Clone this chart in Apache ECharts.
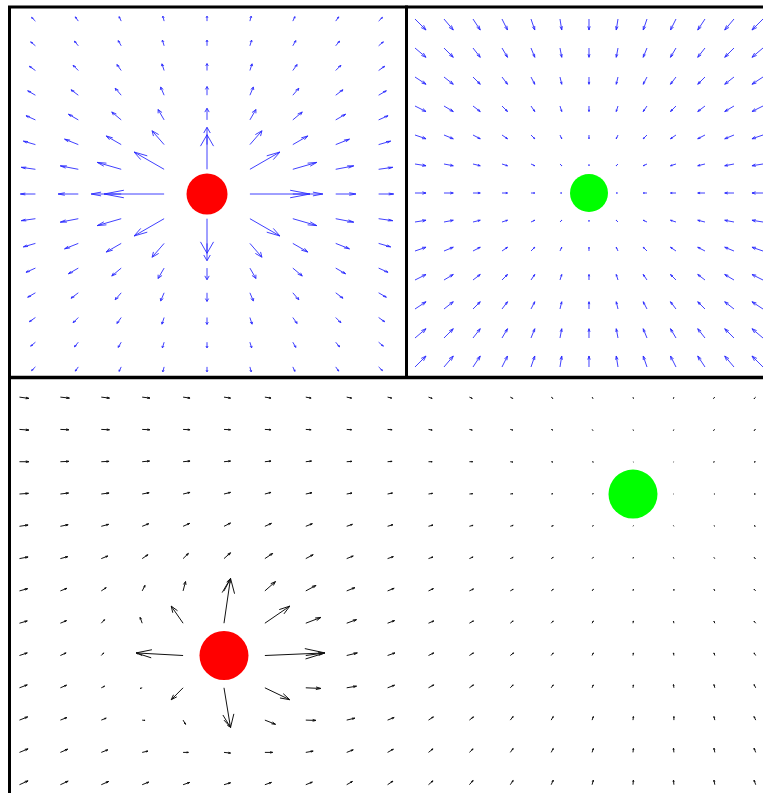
<!DOCTYPE html>
<html>
<head>
<meta charset="utf-8">
<script src="https://cdn.jsdelivr.net/npm/echarts@6/dist/echarts.min.js"></script>
<style>
  html, body { margin: 0; padding: 0; background: #fff; }
  #chart { width: 763px; height: 793px; }
</style>
</head>
<body>
<div id="chart"></div>
<script>
// ---- Panel A (top left): field of the red source charge ----
const fieldAX = [-4, -3, -2, -1, 0, 1, 2, 3, 4];
const fieldAY = [7, 6, 5, 4, 3, 2, 1, 0, -1, -2, -3, -4, -5, -6, -7];
const fieldAU = [
  [-0.09, -0.07, -0.05, -0.03, 0, 0.03, 0.05, 0.07, 0.09],
  [-0.11, -0.09, -0.07, -0.04, 0, 0.04, 0.07, 0.09, 0.11],
  [-0.14, -0.12, -0.10, -0.05, 0, 0.05, 0.10, 0.12, 0.14],
  [-0.18, -0.17, -0.14, -0.08, 0, 0.08, 0.14, 0.17, 0.18],
  [-0.22, -0.23, -0.22, -0.14, 0, 0.14, 0.22, 0.23, 0.22],
  [-0.28, -0.32, -0.35, -0.28, 0, 0.28, 0.35, 0.32, 0.28],
  [-0.33, -0.42, -0.56, -0.70, 0, 0.70, 0.56, 0.42, 0.33],
  [-0.35, -0.47, -0.70, -1.40, null, 1.40, 0.70, 0.47, 0.35],
  [-0.33, -0.42, -0.56, -0.70, 0, 0.70, 0.56, 0.42, 0.33],
  [-0.28, -0.32, -0.35, -0.28, 0, 0.28, 0.35, 0.32, 0.28],
  [-0.22, -0.23, -0.22, -0.14, 0, 0.14, 0.22, 0.23, 0.22],
  [-0.18, -0.17, -0.14, -0.08, 0, 0.08, 0.14, 0.17, 0.18],
  [-0.14, -0.12, -0.10, -0.05, 0, 0.05, 0.10, 0.12, 0.14],
  [-0.11, -0.09, -0.07, -0.04, 0, 0.04, 0.07, 0.09, 0.11],
  [-0.09, -0.07, -0.05, -0.03, 0, 0.03, 0.05, 0.07, 0.09]
];
const fieldAV = [
  [0.15, 0.17, 0.18, 0.20, 0.20, 0.20, 0.18, 0.17, 0.15],
  [0.16, 0.19, 0.21, 0.23, 0.23, 0.23, 0.21, 0.19, 0.16],
  [0.17, 0.21, 0.24, 0.27, 0.28, 0.27, 0.24, 0.21, 0.17],
  [0.18, 0.22, 0.28, 0.33, 0.35, 0.33, 0.28, 0.22, 0.18],
  [0.17, 0.23, 0.32, 0.42, 0.47, 0.42, 0.32, 0.23, 0.17],
  [0.14, 0.22, 0.35, 0.56, 0.70, 0.56, 0.35, 0.22, 0.14],
  [0.08, 0.14, 0.28, 0.70, 1.40, 0.70, 0.28, 0.14, 0.08],
  [0, 0, 0, 0, null, 0, 0, 0, 0],
  [-0.08, -0.14, -0.28, -0.70, -1.40, -0.70, -0.28, -0.14, -0.08],
  [-0.14, -0.22, -0.35, -0.56, -0.70, -0.56, -0.35, -0.22, -0.14],
  [-0.17, -0.23, -0.32, -0.42, -0.47, -0.42, -0.32, -0.23, -0.17],
  [-0.18, -0.22, -0.28, -0.33, -0.35, -0.33, -0.28, -0.22, -0.18],
  [-0.17, -0.21, -0.24, -0.27, -0.28, -0.27, -0.24, -0.21, -0.17],
  [-0.16, -0.19, -0.21, -0.23, -0.23, -0.23, -0.21, -0.19, -0.16],
  [-0.15, -0.17, -0.18, -0.20, -0.20, -0.20, -0.18, -0.17, -0.15]
];
const chargeA = [0, 0];

// ---- Panel B (top right): field pulling toward the green charge ----
const fieldBX = [-6, -5, -4, -3, -2, -1, 0, 1, 2, 3, 4, 5, 6];
const fieldBY = [6, 5, 4, 3, 2, 1, 0, -1, -2, -3, -4, -5, -6];
// horizontal component for each column, vertical component for each row
const fieldBColU = [0.38, 0.32, 0.25, 0.19, 0.13, 0.06, 0, -0.06, -0.13, -0.19, -0.25, -0.32, -0.38];
const fieldBRowV = [-0.38, -0.32, -0.25, -0.19, -0.13, -0.06, 0, 0.06, 0.13, 0.19, 0.25, 0.32, 0.38];
const chargeB = [0, 0];

// ---- Panel C (bottom): both charges together ----
const fieldCX = [-5, -4, -3, -2, -1, 0, 1, 2, 3, 4, 5, 6, 7, 8, 9, 10, 11, 12, 13];
const fieldCY = [8, 7, 6, 5, 4, 3, 2, 1, 0, -1, -2, -3, -4];
const fieldCU = [
  [0.23, 0.22, 0.20, 0.19, 0.17, 0.16, 0.15, 0.13, 0.12, 0.10, 0.09, 0.07, 0.06, 0.04, 0.02, 0.01, -0.01, -0.03, -0.04],
  [0.23, 0.21, 0.20, 0.19, 0.17, 0.16, 0.15, 0.13, 0.12, 0.11, 0.09, 0.07, 0.06, 0.04, 0.02, 0.01, -0.01, -0.03, -0.04],
  [0.23, 0.21, 0.19, 0.18, 0.17, 0.16, 0.15, 0.14, 0.13, 0.11, 0.09, 0.08, 0.06, 0.04, 0.03, 0.01, -0.01, -0.03, -0.04],
  [0.22, 0.20, 0.19, 0.17, 0.17, 0.16, 0.15, 0.15, 0.13, 0.12, 0.10, 0.08, 0.06, 0.04, 0.03, 0.01, -0.01, -0.02, -0.04],
  [0.21, 0.19, 0.18, 0.16, 0.16, 0.16, 0.16, 0.16, 0.14, 0.13, 0.11, 0.09, 0.07, 0.05, 0.03, 0.01, -0.01, -0.02, -0.04],
  [0.21, 0.18, 0.16, 0.14, 0.13, 0.16, 0.19, 0.18, 0.16, 0.14, 0.11, 0.09, 0.07, 0.05, 0.03, 0.01, -0.01, -0.02, -0.04],
  [0.20, 0.16, 0.12, 0.07, 0.06, 0.16, 0.26, 0.25, 0.20, 0.16, 0.12, 0.10, 0.07, 0.05, 0.03, 0.01, 0.00, -0.02, -0.04],
  [0.19, 0.15, 0.08, -0.05, -0.29, 0.16, 0.61, 0.37, 0.24, 0.17, 0.13, 0.10, 0.07, 0.05, 0.03, 0.01, -0.01, -0.02, -0.04],
  [0.19, 0.14, 0.06, -0.14, -1.15, null, 1.47, 0.46, 0.26, 0.18, 0.13, 0.10, 0.08, 0.05, 0.03, 0.01, -0.01, -0.02, -0.04],
  [0.19, 0.15, 0.08, -0.05, -0.29, 0.16, 0.61, 0.37, 0.24, 0.17, 0.13, 0.10, 0.07, 0.05, 0.03, 0.01, -0.01, -0.02, -0.04],
  [0.20, 0.16, 0.12, 0.07, 0.06, 0.16, 0.26, 0.25, 0.20, 0.16, 0.12, 0.10, 0.07, 0.05, 0.03, 0.01, 0.00, -0.02, -0.04],
  [0.21, 0.18, 0.16, 0.14, 0.13, 0.16, 0.19, 0.18, 0.16, 0.14, 0.11, 0.09, 0.07, 0.05, 0.03, 0.01, -0.01, -0.02, -0.04],
  [0.21, 0.19, 0.18, 0.16, 0.16, 0.16, 0.16, 0.16, 0.14, 0.13, 0.11, 0.09, 0.07, 0.05, 0.03, 0.01, -0.01, -0.02, -0.04]
];
const fieldCV = [
  [-0.04, -0.03, -0.03, -0.03, -0.03, -0.03, -0.03, -0.03, -0.03, -0.03, -0.04, -0.04, -0.04, -0.04, -0.04, -0.04, -0.04, -0.04, -0.05],
  [-0.02, -0.01, -0.01, -0.01, -0.01, -0.01, -0.01, -0.01, -0.01, -0.01, -0.02, -0.02, -0.02, -0.02, -0.03, -0.03, -0.03, -0.03, -0.03],
  [0.00, 0.01, 0.01, 0.02, 0.02, 0.02, 0.02, 0.02, 0.01, 0.01, 0.00, 0.00, -0.01, -0.01, -0.01, -0.01, -0.01, -0.01, -0.01],
  [0.02, 0.03, 0.03, 0.04, 0.05, 0.05, 0.05, 0.04, 0.03, 0.03, 0.02, 0.01, 0.01, 0.01, 0.01, 0.01, 0.00, 0.00, 0.00],
  [0.04, 0.05, 0.06, 0.08, 0.09, 0.10, 0.09, 0.08, 0.06, 0.05, 0.04, 0.03, 0.03, 0.02, 0.02, 0.02, 0.02, 0.02, 0.02],
  [0.05, 0.06, 0.08, 0.12, 0.16, 0.18, 0.16, 0.12, 0.08, 0.06, 0.05, 0.05, 0.04, 0.04, 0.04, 0.04, 0.03, 0.03, 0.03],
  [0.07, 0.08, 0.10, 0.17, 0.29, 0.38, 0.29, 0.17, 0.10, 0.08, 0.07, 0.06, 0.05, 0.05, 0.05, 0.05, 0.05, 0.05, 0.05],
  [0.07, 0.08, 0.11, 0.18, 0.53, 1.39, 0.53, 0.18, 0.11, 0.08, 0.07, 0.07, 0.07, 0.07, 0.07, 0.07, 0.06, 0.06, 0.06],
  [0.08, 0.08, 0.08, 0.08, 0.08, null, 0.08, 0.08, 0.08, 0.08, 0.08, 0.08, 0.08, 0.08, 0.08, 0.08, 0.08, 0.08, 0.08],
  [0.09, 0.08, 0.05, -0.02, -0.37, -1.23, -0.37, -0.02, 0.05, 0.08, 0.09, 0.09, 0.09, 0.09, 0.09, 0.09, 0.10, 0.10, 0.10],
  [0.10, 0.08, 0.06, -0.01, -0.13, -0.22, -0.13, -0.01, 0.06, 0.08, 0.10, 0.10, 0.11, 0.11, 0.11, 0.11, 0.11, 0.11, 0.11],
  [0.11, 0.10, 0.08, 0.04, 0.00, -0.02, 0.00, 0.04, 0.08, 0.10, 0.11, 0.11, 0.12, 0.12, 0.12, 0.12, 0.13, 0.13, 0.13],
  [0.12, 0.11, 0.10, 0.08, 0.07, 0.06, 0.07, 0.08, 0.10, 0.11, 0.12, 0.13, 0.13, 0.14, 0.14, 0.14, 0.14, 0.14, 0.14]
];
const chargeCRed = [0, 0];
const chargeCGreen = [10, 5];

// Flatten a grid of vectors into [x, y, u, v] rows, skipping empty cells.
function gridRows(xs, ys, uAt, vAt) {
  const out = [];
  ys.forEach((y, r) => {
    xs.forEach((x, c) => {
      const u = uAt(r, c), v = vAt(r, c);
      if (u === null || v === null) return;
      out.push([x, y, u, v]);
    });
  });
  return out;
}

const dataA = gridRows(fieldAX, fieldAY, (r, c) => fieldAU[r][c], (r, c) => fieldAV[r][c]);
const dataB = gridRows(fieldBX, fieldBY, (r, c) => fieldBColU[c], (r, c) => fieldBRowV[r]);
const dataC = gridRows(fieldCX, fieldCY, (r, c) => fieldCU[r][c], (r, c) => fieldCV[r][c]);

// Quiver-style arrow: shaft plus two open barbs, head sized to the vector.
function quiver(color, width) {
  const a = 0.33, b = 0.33;
  return function (params, api) {
    const x = api.value(0), y = api.value(1), u = api.value(2), v = api.value(3);
    const tx = x + u, ty = y + v;
    const p0 = api.coord([x, y]);
    const p1 = api.coord([tx, ty]);
    const h1 = api.coord([tx - a * (u + b * v), ty - a * (v - b * u)]);
    const h2 = api.coord([tx - a * (u - b * v), ty - a * (v + b * u)]);
    const style = { stroke: color, lineWidth: width, fill: null };
    return {
      type: 'group',
      children: [
        { type: 'polyline', shape: { points: [p0, p1] }, style: style },
        { type: 'polyline', shape: { points: [h1, p1, h2] }, style: style }
      ]
    };
  };
}

function arrows(idx, data, color, width) {
  return {
    type: 'custom',
    xAxisIndex: idx, yAxisIndex: idx,
    dimensions: ['x', 'y', 'u', 'v'],
    encode: { x: 0, y: 1 },
    data: data,
    renderItem: quiver(color, width),
    silent: true,
    z: 2
  };
}

function charge(idx, pos, color, size) {
  return {
    type: 'scatter',
    xAxisIndex: idx, yAxisIndex: idx,
    data: [pos],
    symbol: 'circle',
    symbolSize: size,
    itemStyle: { color: color, opacity: 1 },
    silent: true,
    z: 5
  };
}

const hiddenAxis = (gridIndex, min, max) => ({
  type: 'value', gridIndex: gridIndex, min: min, max: max, show: false,
  splitLine: { show: false }
});

const frame = { show: true, borderColor: '#000', borderWidth: 3, backgroundColor: '#fff', outerBoundsMode: 'none', containLabel: false };

const chart = echarts.init(document.getElementById('chart'), null, { renderer: 'canvas' });
chart.setOption({
  animation: false,
  backgroundColor: '#fff',
  grid: [
    Object.assign({ left: 9.5, top: 7, width: 397, height: 370.3 }, frame),
    Object.assign({ left: 406.5, top: 7, width: 400, height: 370.3 }, frame),
    Object.assign({ left: 9.5, top: 377.7, width: 787.1, height: 422.8 }, frame)
  ],
  xAxis: [
    hiddenAxis(0, -4.604, 4.650),
    hiddenAxis(1, -6.293, 7.5),
    hiddenAxis(2, -5.244, 14)
  ],
  yAxis: [
    hiddenAxis(0, -7.421, 7.571),
    hiddenAxis(1, -6.355, 6.414),
    hiddenAxis(2, -4.489, 8.601)
  ],
  series: [
    arrows(0, dataA, '#2a2aff', 0.9),
    arrows(1, dataB, '#2a2aff', 0.9),
    arrows(2, dataC, '#111111', 1),
    charge(0, chargeA, '#ff0000', 41),
    charge(1, chargeB, '#00ff00', 38),
    charge(2, chargeCRed, '#ff0000', 49),
    charge(2, chargeCGreen, '#00ff00', 49)
  ]
});
</script>
</body>
</html>
